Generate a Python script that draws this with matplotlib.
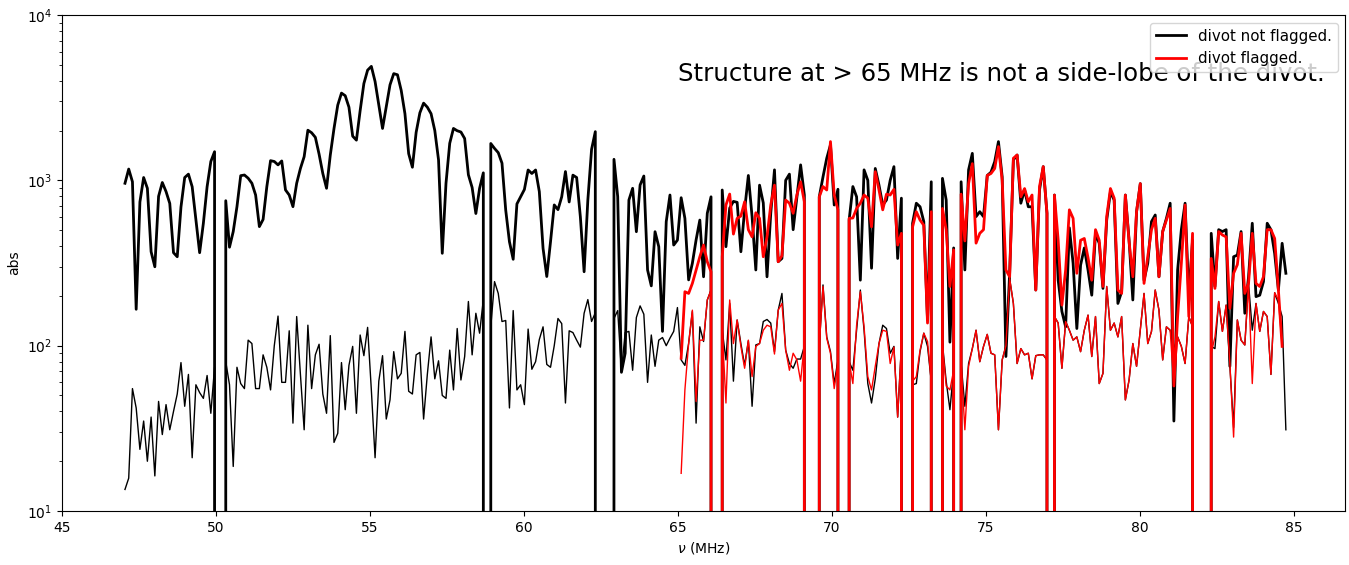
import numpy as np
import matplotlib
matplotlib.use("Agg")
import matplotlib.pyplot as plt

# channel frequencies (MHz)
freq = np.linspace(47.045, 84.74, 312)
red_start = 149  # first channel of the "divot flagged" curves

# divot not flagged: upper (thick) curve
black_upper = [
    960, 1170, 980, 166, 740, 1040, 895, 370, 300, 800,
    970, 855, 725, 365, 345, 690, 1040, 1090, 915, 575,
    365, 550, 915, 1300, 1490, 0, 0, 753, 394, 490,
    693, 1067, 1077, 1030, 960, 815, 525, 580, 915, 1315,
    1300, 1240, 1310, 875, 815, 693, 960, 1180, 1390, 2010,
    1940, 1820, 1440, 1100, 895, 1420, 2060, 2850, 3370, 3250,
    2770, 1850, 1750, 2640, 3850, 4640, 4890, 3960, 2850, 2060,
    2800, 3780, 4420, 4350, 3500, 2530, 1450, 1200, 1950, 2560,
    2930, 2770, 2530, 2000, 1330, 362, 960, 1675, 2060, 1995,
    1960, 1790, 1080, 905, 630, 895, 1110, 0, 1670, 1560,
    1470, 1270, 660, 425, 333, 720, 795, 880, 1155, 1100,
    1155, 855, 388, 262, 425, 710, 665, 795, 1130, 740,
    1075, 1040, 600, 280, 760, 1540, 1970, 0, 0, 0,
    0, 1340, 796, 69, 90, 760, 895, 489, 937, 1062,
    287, 230, 489, 397, 122, 562, 815, 406, 435, 785,
    589, 250, 315, 436, 575, 261, 632, 795, 0, 0,
    874, 397, 679, 746, 736, 370, 663, 1070, 603, 287,
    935, 730, 261, 632, 1157, 322, 337, 1000, 1090, 503,
    795, 1240, 815, 0, 0, 0, 795, 1050, 1360, 1640,
    709, 883, 0, 0, 575, 917, 795, 249, 1157, 1000,
    294, 1180, 935, 709, 760, 1000, 1210, 337, 780, 0,
    0, 550, 727, 692, 563, 143, 980, 0, 0, 1028,
    760, 105, 390, 0, 980, 287, 1157, 1456, 603, 646,
    603, 1070, 1120, 1297, 1715, 1050, 86, 274, 1328, 1423,
    727, 874, 692, 692, 217, 874, 1210, 632, 0, 815,
    249, 161, 130, 516, 315, 127, 307, 390, 287, 202,
    478, 416, 222, 575, 851, 760, 180, 212, 815, 434,
    189, 646, 955, 249, 315, 563, 617, 261, 490, 589,
    727, 35, 287, 503, 727, 198, 434, 0, 0, 0,
    0, 478, 228, 503, 490, 503, 75, 345, 353, 490,
    157, 261, 550, 198, 202, 244, 550, 503, 361, 217,
    416, 274,
]

# divot not flagged: lower (thin) curve
black_lower = [
    13.5, 15.8, 55, 42, 23.6, 35, 20, 37, 16.3, 46,
    29, 44, 31, 40, 51, 79, 43, 67, 21, 58,
    52, 48, 66, 39, 74, 0, 0, 80, 58, 18.6,
    74, 59, 55, 108, 103, 55, 55, 88, 74, 54,
    100, 151, 60, 60, 123, 34, 150, 67, 31, 133,
    55, 88, 102, 51, 39, 115, 26, 29.5, 79, 41,
    76, 99, 39, 116, 87, 129, 54, 21, 61, 87,
    36, 47, 92, 63, 68, 122, 53, 51, 88, 91,
    36, 67, 113, 63, 81, 50, 48, 94, 54, 127,
    62, 86, 185, 88, 157, 119, 190, 0, 130, 244,
    207, 140, 142, 42, 163, 54, 58, 44, 126, 72,
    80, 109, 130, 77, 74, 100, 146, 136, 45, 123,
    120, 108, 98, 157, 190, 140, 158, 0, 0, 0,
    0, 146, 163, 70, 120, 122, 71, 148, 174, 155,
    60, 116, 75, 108, 112, 100, 111, 122, 170, 82,
    76, 103, 161, 34, 130, 106, 189, 217, 0, 0,
    124, 82, 180, 61, 143, 103, 76, 107, 43, 101,
    103, 140, 144, 137, 92, 164, 207, 94, 78, 73,
    83, 83, 99, 0, 0, 0, 100, 233, 113, 92,
    59, 82, 0, 0, 80, 71, 124, 217, 124, 59,
    45, 63, 103, 133, 127, 90, 99, 37, 100, 0,
    0, 58, 59, 92, 119, 99, 61, 0, 0, 103,
    61, 41, 71, 0, 78, 43, 78, 96, 124, 80,
    99, 117, 90, 88, 31, 82, 100, 255, 180, 78,
    96, 88, 90, 63, 87, 88, 88, 82, 0, 150,
    137, 73, 140, 124, 108, 113, 92, 124, 153, 86,
    150, 59, 68, 228, 124, 137, 113, 150, 47, 62,
    103, 75, 124, 207, 103, 122, 217, 164, 82, 130,
    124, 95, 113, 99, 78, 150, 130, 0, 0, 0,
    0, 99, 96, 185, 122, 176, 75, 32, 143, 108,
    101, 238, 124, 180, 122, 161, 150, 67, 209, 180,
    150, 31,
]

# divot flagged: upper (thick) curve, from channel 149
red_upper = [
    84,
    212, 207, 238, 287, 345, 406, 322, 280, 0, 0,
    345, 709, 826, 473, 589, 608, 742, 503, 455, 637,
    589, 345, 455, 709, 935, 322, 350, 760, 727, 632,
    815, 980, 742, 0, 0, 0, 795, 917, 874, 1715,
    815, 663, 0, 0, 589, 592, 676, 727, 815, 780,
    523, 1128, 874, 663, 825, 815, 882, 406, 478, 0,
    0, 523, 646, 575, 535, 137, 646, 0, 0, 676,
    503, 228, 380, 0, 825, 430, 955, 1262, 417, 478,
    503, 1070, 1100, 1180, 1600, 1000, 287, 261, 1360, 1423,
    795, 892, 742, 815, 217, 917, 1210, 632, 0, 815,
    434, 176, 287, 663, 589, 274, 434, 445, 340, 249,
    503, 434, 228, 603, 892, 780, 217, 207, 815, 424,
    261, 646, 955, 238, 345, 503, 589, 261, 490, 575,
    676, 57, 150, 315, 709, 150, 478, 0, 0, 0,
    0, 337, 222, 490, 467, 455, 168, 274, 309, 478,
    207, 238, 478, 238, 228, 261, 503, 503, 445, 217,
    99,
]

# divot flagged: lower (thin) curve, from channel 149
red_lower = [
    16.9,
    54, 103, 164, 46, 108, 108, 189, 217, 0, 0,
    124, 45, 189, 103, 143, 99, 73, 108, 65, 99,
    103, 124, 133, 130, 89, 164, 180, 94, 71, 90,
    82, 61, 103, 0, 0, 0, 100, 228, 111, 90,
    55, 78, 0, 0, 80, 59, 133, 212, 130, 65,
    54, 75, 103, 124, 122, 78, 98, 37, 100, 0,
    0, 61, 65, 94, 119, 106, 61, 0, 0, 100,
    57, 54, 71, 0, 78, 31, 75, 96, 124, 80,
    99, 117, 90, 88, 31, 82, 100, 255, 180, 78,
    96, 88, 90, 63, 87, 88, 88, 82, 0, 150,
    137, 73, 140, 124, 108, 113, 92, 124, 153, 86,
    150, 59, 68, 228, 124, 137, 113, 150, 47, 62,
    103, 75, 124, 207, 103, 122, 217, 164, 82, 130,
    124, 57, 113, 99, 78, 150, 130, 0, 0, 0,
    0, 90, 113, 185, 122, 176, 78, 28, 143, 108,
    101, 238, 59, 180, 122, 161, 150, 67, 209, 189,
    100,
]

red_freq = freq[red_start:red_start + len(red_upper)]

fig = plt.figure(figsize=(13.49, 5.65), dpi=100)
ax = fig.add_axes([62 / 1349, 1 - 511 / 565, (1345 - 62) / 1349, (511 - 15) / 565])
ax.set_yscale("log")

ax.plot(freq, black_upper, color="black", lw=2, label="divot not flagged.")
ax.plot(freq, black_lower, color="black", lw=1)
ax.plot(red_freq, red_upper, color="red", lw=2, label="divot flagged.")
ax.plot(red_freq, red_lower, color="red", lw=1)

ax.set_xlim(45, 86.66)
ax.set_ylim(10, 1e4)
ax.set_xlabel(r"$\nu$ (MHz)")
ax.set_ylabel("abs")
ax.text(65, 4000, "Structure at > 65 MHz is not a side-lobe of the divot.",
        fontsize=17.6)
ax.legend(loc="upper right", fontsize=10.8)

fig.savefig("out.png", dpi=100)
